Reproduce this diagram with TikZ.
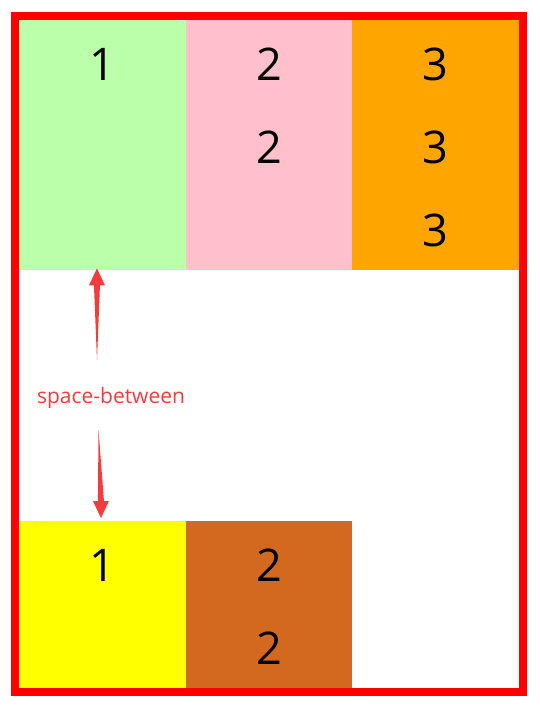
\documentclass[tikz,border=0pt]{standalone}
\usepackage{fontspec}
\setmainfont{Open Sans}
\usetikzlibrary{calc}
\definecolor{lightgreen}{RGB}{187,255,170}
\definecolor{lightpink}{RGB}{255,192,203}
\definecolor{darkorange}{RGB}{255,165,0}
\definecolor{pureyellow}{RGB}{255,255,0}
\definecolor{purered}{RGB}{255,0,0}
\definecolor{chocolate}{RGB}{210,105,30}
\definecolor{arrowred}{RGB}{245,60,60}
\tikzset{
    item/.style={rectangle, inner sep=0pt, minimum width=166.5pt, anchor=north west},
    digit/.style={inner sep=0pt, font=\fontsize{45}{50}\selectfont}
}
\begin{document}
\begin{tikzpicture}[x=1pt, y=-1pt]
    \useasboundingbox (0,0) rectangle (540,707);
    \draw[purered, line width=8pt] (15,16) rectangle (523,691.5);

    \node[item, fill=lightgreen, minimum height=250pt] at (19,20) (g1) {};
    \node[item, fill=lightpink, minimum height=250pt] at (185.5,20) (p2) {};
    \node[item, fill=darkorange, minimum height=250pt] at (352,20) (o3) {};
    \node[item, fill=pureyellow, minimum height=166.5pt] at (19,521) (y1) {};
    \node[item, fill=chocolate, minimum height=166.5pt] at (185.5,521) (c2) {};

    \node[digit] at ($(g1.north)+(0,44)$) (g1a) {1};
    \node[digit] at ($(p2.north)+(0,44)$) (p2a) {2};
    \node[digit] at ($(p2.north)+(0,127)$) (p2b) {2};
    \node[digit] at ($(o3.north)+(0,44)$) (o3a) {3};
    \node[digit] at ($(o3.north)+(0,127)$) (o3b) {3};
    \node[digit] at ($(o3.north)+(0,210)$) (o3c) {3};
    \node[digit] at ($(y1.north)+(0,44)$) (y1a) {1};
    \node[digit] at ($(c2.north)+(0,44)$) (c2a) {2};
    \node[digit] at ($(c2.north)+(0,127)$) (c2b) {2};

    \node[text=arrowred, font=\fontsize{21}{24}\selectfont] at (111,398) (gap) {space-between};

    \coordinate (upTail) at (97,360);
    \coordinate (upTip) at ($(g1.south)+(-5.5,-2)$);
    \coordinate (downTail) at (98.5,430);
    \coordinate (downTip) at ($(y1.north)+(-1.5,-3)$);
    \fill[arrowred] (upTail) -- ($(upTip)+(-3,17)$) -- ($(upTip)+(-8,17)$) -- (upTip)
        -- ($(upTip)+(8,17)$) -- ($(upTip)+(3,17)$) -- cycle;
    \fill[arrowred] (downTail) -- ($(downTip)+(3,-17)$) -- ($(downTip)+(8,-17)$) -- (downTip)
        -- ($(downTip)+(-8,-17)$) -- ($(downTip)+(-3,-17)$) -- cycle;
\end{tikzpicture}
\end{document}
